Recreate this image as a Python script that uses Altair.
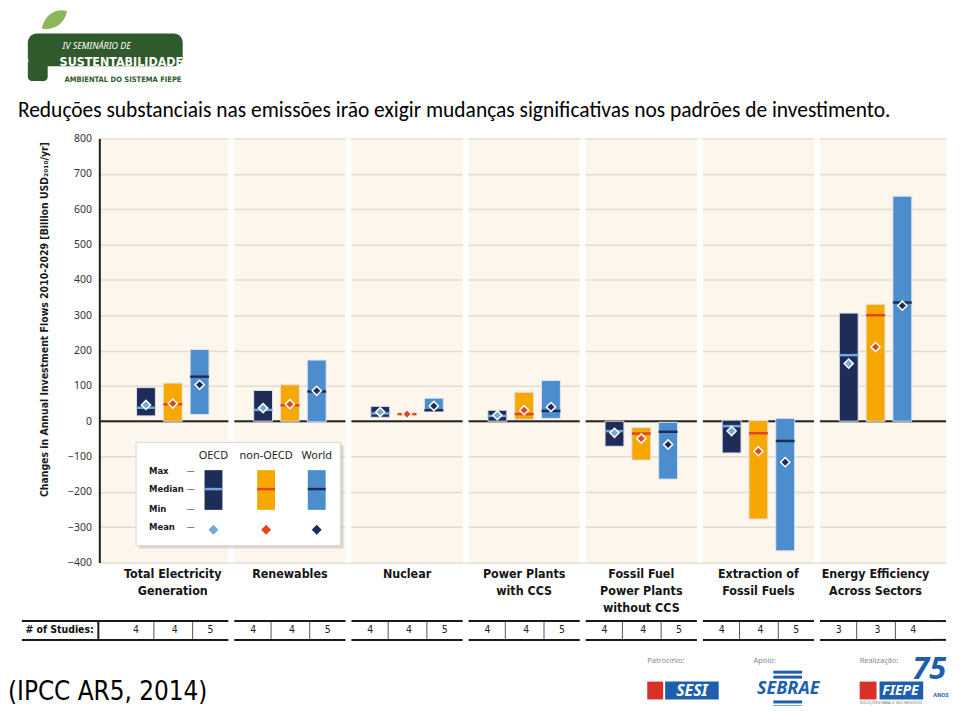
import altair as alt
import pandas as pd

# ---------------- data ----------------
categories = ["Total Electricity\nGeneration", "Renewables", "Nuclear",
              "Power Plants\nwith CCS", "Fossil Fuel\nPower Plants\nwithout CCS",
              "Extraction of\nFossil Fuels", "Energy Efficiency\nAcross Sectors"]
regions = ["OECD", "non-OECD", "World"]

oecd_max = [95, 87, 42, 31, 0, 3, 306]
oecd_min = [15, 0, 11, 0, -71, -90, 0]
oecd_median = [38, 32, 22, 15, -28, -14, 187]
oecd_mean = [46, 37, 26, 17, -33, -28, 163]

non_oecd_max = [108, 103, 20, 82, -18, 2, 331]
non_oecd_min = [0, 0, 20, 5, -110, -277, 0]
non_oecd_median = [48, 45, 20, 20, -35, -34, 300]
non_oecd_mean = [50, 48, 20, 31, -49, -85, 210]

world_max = [203, 173, 65, 115, -3, 8, 637]
world_min = [19, -2, 28, 8, -164, -367, 0]
world_median = [126, 84, 31, 29, -30, -56, 336]
world_mean = [103, 86, 43, 40, -66, -116, 327]

oecd_studies = [4, 4, 4, 4, 4, 4, 3]
non_oecd_studies = [4, 4, 4, 4, 4, 4, 3]
world_studies = [5, 5, 5, 5, 5, 5, 4]

y_ticks = [-400, -300, -200, -100, 0, 100, 200, 300, 400, 500, 600, 700, 800]

title_text = ("Reduções substanciais nas emissões irão exigir mudanças "
              "significativas nos padrões de investimento.")
y_title = "Changes in Annual Investment Flows 2010-2029 [Billion USD\u2082\u2080\u2081\u2080/yr]"
source_text = "(IPCC AR5, 2014)"

# ---------------- styles ----------------
bar_color = {"OECD": "#1f2c57", "non-OECD": "#f6a800", "World": "#4b8dcd"}
median_color = {"OECD": "#72a9dd", "non-OECD": "#e2461c", "World": "#1f2c57"}
mean_color = {"OECD": "#72a9dd", "non-OECD": "#e2461c", "World": "#1f2c57"}

NARROW = "Liberation Sans Narrow, DejaVu Sans Condensed, sans-serif"
SANS = "Noto Sans, DejaVu Sans, sans-serif"
CREAM = "#fdf6ec"

series = {
    "OECD": (oecd_max, oecd_min, oecd_median, oecd_mean, oecd_studies),
    "non-OECD": (non_oecd_max, non_oecd_min, non_oecd_median, non_oecd_mean, non_oecd_studies),
    "World": (world_max, world_min, world_median, world_mean, world_studies),
}
rows = []
for i, cat in enumerate(categories):
    for r in regions:
        mx, mn, md, mu, st = series[r]
        rows.append({"category": cat, "region": r, "vmax": mx[i], "vmin": mn[i],
                     "median": md[i], "mean": mu[i], "studies": str(st[i]),
                     "bar_color": bar_color[r], "median_color": median_color[r],
                     "mean_color": mean_color[r]})
df = pd.DataFrame(rows)
cat_df = pd.DataFrame({"category": categories})
dummy = pd.DataFrame({"d": [0]})

W, H = 853, 427

xscale = alt.Scale(domain=categories, paddingInner=6 / 118, paddingOuter=0.14, align=0.545)
xoff_scale = alt.Scale(domain=regions, paddingInner=0.296, paddingOuter=0.722)
yscale = alt.Scale(domain=[-400, 800], nice=False, zero=False)

yaxis = alt.Axis(values=y_ticks, grid=True, gridColor="#e2dcd3", gridWidth=1.5,
                 domain=True, domainColor="#1a1a1a", domainWidth=2, ticks=False,
                 labelPadding=8, labelFont=SANS, labelFontSize=10.5, labelColor="#333",
                 title=y_title, titleFont=NARROW, titleFontSize=10.5, titleFontWeight="bold",
                 titleColor="#1a1a1a", titleAngle=270, titleAlign="right",
                 titleBaseline="middle", titleX=-55, titleY=3)

X = alt.X("category:N", scale=xscale, axis=None)
XO = alt.XOffset("region:N", scale=xoff_scale)


def Y(field):
    return alt.Y(f"{field}:Q", scale=yscale, axis=yaxis)


def text_layer(s, x, y, **kw):
    return alt.Chart(dummy).mark_text(text=s, **kw).encode(x=alt.value(x), y=alt.value(y))


def rect_layer(x1, x2, y1, y2, **kw):
    return alt.Chart(dummy).mark_rect(**kw).encode(
        x=alt.value(x1), x2=alt.value(x2), y=alt.value(y1), y2=alt.value(y2))


def rule_layer(x1, x2, y1, y2, **kw):
    return alt.Chart(dummy).mark_rule(**kw).encode(
        x=alt.value(x1), x2=alt.value(x2), y=alt.value(y1), y2=alt.value(y2))


layers = []

# zero line and white gaps between panels
layers.append(alt.Chart(pd.DataFrame({"v": [0]})).mark_rule(color="#262626", strokeWidth=2)
              .encode(y=Y("v")))
layers.append(alt.Chart(cat_df.iloc[1:]).mark_rule(color="white", strokeWidth=6, xOffset=-59)
              .encode(x=X))

# range bars, medians, means
layers.append(alt.Chart(df).mark_bar(stroke="#dfe3ea", strokeWidth=1).encode(
    x=X, xOffset=XO, y=Y("vmax"), y2="vmin",
    color=alt.Color("bar_color:N", scale=None)))
layers.append(alt.Chart(df).mark_tick(size=19, thickness=2.5, opacity=1).encode(
    x=X, xOffset=XO, y=Y("median"),
    color=alt.Color("median_color:N", scale=None)))
layers.append(alt.Chart(df).mark_point(shape="diamond", filled=True, size=85, stroke="white",
                                       strokeWidth=1.5, opacity=1).encode(
    x=X, xOffset=XO, y=Y("mean"),
    fill=alt.Fill("mean_color:N", scale=None)))

# category labels
layers.append(alt.Chart(cat_df).mark_text(font=NARROW, fontSize=12.5, fontWeight="bold",
                                          color="#151515", baseline="top", lineHeight=17,
                                          lineBreak="\n").encode(
    x=X, y=alt.value(433), text="category:N"))

# ---------------- # of studies table ----------------
for yy in (485, 504):
    layers.append(alt.Chart(cat_df).mark_bar(color="#1a1a1a").encode(
        x=X, y=alt.value(yy), y2=alt.value(yy + 2)))
    layers.append(rect_layer(-78, 19, yy, yy + 2, color="#1a1a1a"))
    layers.append(rect_layer(837, 853, yy, yy + 2, color="#1a1a1a"))
for off in (-19, 20):
    layers.append(alt.Chart(cat_df).mark_rule(color="#555", strokeWidth=1, xOffset=off).encode(
        x=X, y=alt.value(487), y2=alt.value(504)))
for k, r in enumerate(regions):
    layers.append(alt.Chart(df[df.region == r]).mark_text(
        font=NARROW, fontSize=10.5, color="#222", baseline="middle",
        xOffset=[-37, 2, 38][k]).encode(x=X, y=alt.value(495.5), text="studies:N"))
layers.append(rule_layer(-1, -1, 487, 504, color="#1a1a1a", strokeWidth=2))
layers.append(text_layer("# of Studies:", -40, 495.5, font=NARROW, fontSize=10.5,
                         fontWeight="bold", color="#111", baseline="middle"))

# ---------------- legend box ----------------
layers.append(rect_layer(40, 246, 309, 413, color="#9a9a9a", opacity=0.35))
layers.append(rect_layer(37, 243, 306, 410, color="white", stroke="#d6d6d6", strokeWidth=1))
legend_x = {"OECD": 115, "non-OECD": 168, "World": 219}
for r in regions:
    cx = legend_x[r]
    layers.append(text_layer(r, cx, 320, font=SANS, fontSize=11, color="#222",
                             baseline="middle", align="center"))
    layers.append(rect_layer(cx - 9, cx + 9, 334, 374, color=bar_color[r]))
    layers.append(rect_layer(cx - 9, cx + 9, 351.8, 354.3, color=median_color[r]))
    layers.append(alt.Chart(dummy).mark_point(shape="diamond", filled=True, size=100,
                                              color=mean_color[r], opacity=1).encode(
        x=alt.value(cx), y=alt.value(394)))
for lab, yy in (("Max", 335), ("Median", 353), ("Min", 373), ("Mean", 391)):
    layers.append(text_layer(lab, 50, yy, font=NARROW, fontSize=9.5, fontWeight="bold",
                             color="#1a1a1a", baseline="middle", align="left"))
    layers.append(text_layer("\u2014", 92, yy, font=SANS, fontSize=8, color="#333",
                             baseline="middle", align="center"))

# ---------------- headline and source ----------------
layers.append(text_layer(title_text, -82, -22, font="Calibri, Carlito, Lato, sans-serif",
                         fontSize=21.6, color="#000", align="left", baseline="alphabetic"))
layers.append(text_layer(source_text, -92, 566, font=NARROW, fontSize=26, color="#000",
                         align="left", baseline="alphabetic"))

# ---------------- top-left event logo ----------------
leaf = "M -1 0.2 C -0.4 -0.7 0.5 -0.7 1 -0.3 C 0.5 0.5 -0.4 0.6 -1 0.2 Z"
layers.append(alt.Chart(dummy).mark_point(shape=leaf, filled=True, size=900, angle=340,
                                          color="#8cb65a", opacity=1).encode(
    x=alt.value(-45), y=alt.value(-119)))
layers.append(alt.Chart(dummy).mark_point(shape=leaf, filled=True, size=260, angle=20,
                                          color="#a9c97e", opacity=1).encode(
    x=alt.value(-62), y=alt.value(-84)))
layers.append(rect_layer(-72, 84, -106, -73, color="#2f5a2b", cornerRadius=9))
layers.append(rect_layer(-72, -52, -80, -58, color="#2f5a2b", cornerRadius=4))
layers.append(text_layer("IV SEMINÁRIO DE", -37, -93, font=SANS, fontSize=9, fontStyle="italic",
                         color="white", align="left"))
layers.append(text_layer("SUSTENTABILIDADE", -40, -77, font=NARROW, fontSize=12.5,
                         fontWeight="bold", color="white", align="left"))
layers.append(text_layer("AMBIENTAL DO SISTEMA FIEPE", -35, -59, font=NARROW, fontSize=7.6,
                         fontWeight="bold", color="#2f5a2b", align="left"))

# ---------------- bottom-right sponsor logos ----------------
for lab, xx in (("Patrocínio:", 552), ("Apoio:", 659), ("Realização:", 766)):
    layers.append(text_layer(lab, xx, 526, font=SANS, fontSize=7.5, color="#888", align="left",
                             baseline="middle"))
# SESI
layers.append(rect_layer(552, 568, 547, 565, color="#d8312a"))
layers.append(rect_layer(570, 624, 547, 565, color="#1d5fae"))
layers.append(text_layer("SESI", 597, 557, font=SANS, fontSize=16, fontWeight="bold",
                         fontStyle="italic", color="white", align="center", baseline="middle"))
# SEBRAE
for y1 in (536, 541, 566, 571):
    layers.append(rect_layer(679, 708, y1, y1 + 3, color="#1d5fae"))
layers.append(text_layer("SEBRAE", 694, 555, font=SANS, fontSize=18, fontWeight="bold",
                         fontStyle="italic", color="#1d5fae", align="center", baseline="middle"))
# FIEPE
layers.append(rect_layer(766, 783, 547, 565, color="#d8312a"))
layers.append(rect_layer(786, 830, 547, 565, color="#1d5fae"))
layers.append(text_layer("FIEPE", 807, 557, font=SANS, fontSize=14, fontWeight="bold",
                         fontStyle="italic", color="white", align="center", baseline="middle"))
layers.append(text_layer("75", 836, 544, font=SANS, fontSize=31, fontWeight="bold",
                         fontStyle="italic", color="#1d5fae", align="center",
                         baseline="alphabetic"))
layers.append(text_layer("ANOS", 840, 561, font=SANS, fontSize=5.5, fontWeight="bold",
                         color="#1d5fae", align="left", baseline="middle"))
layers.append(text_layer("SOLUÇÕES PARA O SEU NEGÓCIO", 766, 569, font=SANS, fontSize=4,
                         color="#777", align="left", baseline="middle"))

chart = (
    alt.layer(*layers)
    .properties(width=W, height=H, autosize=alt.AutoSizeParams(type="none"),
                padding={"left": 92, "top": 129, "right": 6, "bottom": 142})
    .configure(background="white")
    .configure_view(fill=CREAM, stroke=None)
)

chart.save("out.html", embed_options={"renderer": "svg", "actions": False})
